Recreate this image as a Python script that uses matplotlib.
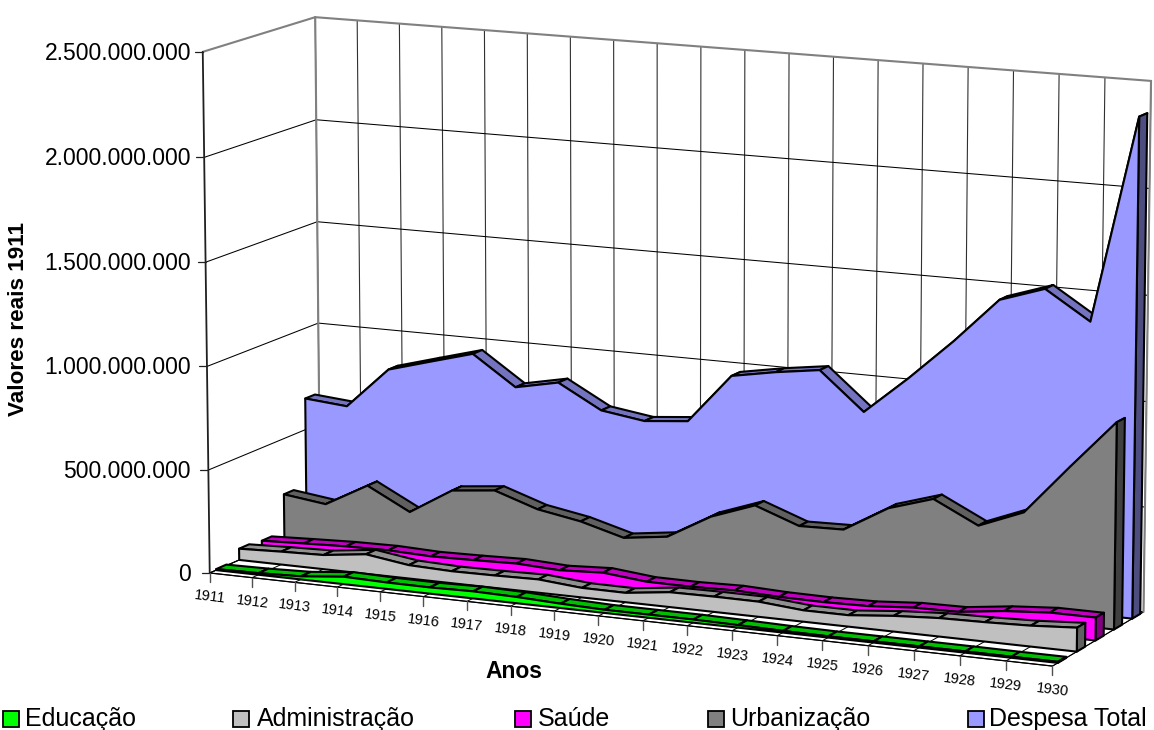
#!/bin/python
import numpy as np
import matplotlib
matplotlib.use("Agg")
import matplotlib.pyplot as plt
from matplotlib.patches import Polygon, Rectangle

plt.rcParams['font.family'] = ['Liberation Sans', 'DejaVu Sans']

YEARS = list(range(1911, 1931))
SERIES = ["Educação", "Administração", "Saúde", "Urbanização", "Despesa Total"]

# valores em milhões
EDUCACAO = [5, 8, 15, 36, 31, 30, 34, 30, 21, 15, 15, 15, 12, 8, 6, 6, 6, 6, 5, 5]
ADMINISTRACAO = [55, 63, 69, 95, 65, 58, 60, 64, 46, 45, 71, 73, 72, 54, 54, 74, 87, 91, 98, 112]
SAUDE = [45, 54, 62, 65, 58, 62, 68, 58, 69, 48, 47, 52, 44, 42, 46, 62, 65, 92, 108, 108]
URBANIZACAO = [226, 199, 312, 204, 331, 353, 283, 246, 188, 216, 335, 411, 334, 339, 463, 529, 424, 509, 746, 976]
DESPESA = [654, 636, 837, 896, 954, 811, 854, 739, 708, 728, 967, 1005, 1035, 855, 1037, 1233, 1447, 1518, 1383, 2357]

VALUES = [EDUCACAO, ADMINISTRACAO, SAUDE, URBANIZACAO, DESPESA]
FACE = ["#00FF00", "#C0C0C0", "#FF00FF", "#808080", "#9999FF"]
TOP = ["#00BF00", "#909090", "#BF00BF", "#606060", "#7373BF"]
SIDE = ["#008000", "#606060", "#800080", "#404040", "#4D4D80"]

Y_TICKS = [0, 500, 1000, 1500, 2000, 2500]
Y_LABELS = ["0", "500.000.000", "1.000.000.000", "1.500.000.000", "2.000.000.000", "2.500.000.000"]
Y_MAX = 2500
BAND = 0.045

LEGEND_BOX = [3, 233, 515, 708, 968]
LEGEND_TEXT = [25, 257, 538, 730, 989]

# cantos da caixa 3D (ano, profundidade, valor) na tela
BOX = [(0, 0, 0), (0, 0, 1), (0, 1, 1), (0, 1, 0), (1, 1, 1), (1, 1, 0), (1, 0, 0)]
SCREEN = [(209, 570), (203, 53), (315, 16), (321, 527), (1151, 81), (1143, 610), (1053, 668)]


def camera_matrix(box, screen):
    rows = []
    for (x, z, y), (u, v) in zip(box, screen):
        p = [x, z, y, 1]
        rows.append(p + [0, 0, 0, 0] + [-u * c for c in p])
        rows.append([0, 0, 0, 0] + p + [-v * c for c in p])
    _, _, vt = np.linalg.svd(np.array(rows, dtype=float))
    return vt[-1].reshape(3, 4)


CAM = camera_matrix(BOX, SCREEN)


def proj(i, z, val):
    u, v, w = CAM @ np.array([i / 19, z, val / Y_MAX, 1.0])
    return u / w, v / w


def line(ax, a, b, color="black", lw=0.6, zorder=1):
    ax.plot([a[0], b[0]], [a[1], b[1]], color=color, lw=lw, zorder=zorder, solid_capstyle="round")


def draw_walls(ax):
    ax.add_patch(Polygon([proj(0, 0, 0), proj(19, 0, 0), proj(19, 1, 0), proj(0, 1, 0)],
                         fc="white", ec="black", lw=0.7, zorder=1))
    for i in range(20):
        line(ax, proj(i, 1, 0), proj(i, 1, Y_MAX), color="#303030", lw=0.8)
        line(ax, proj(i, 0, 0), proj(i, 1, 0), lw=0.7)
    for t in Y_TICKS[:-1]:
        line(ax, proj(0, 0, t), proj(0, 1, t), lw=0.75)
        line(ax, proj(0, 1, t), proj(19, 1, t), lw=0.75)
    # moldura cinza das paredes
    gray = "#808080"
    line(ax, proj(0, 0, Y_MAX), proj(0, 1, Y_MAX), gray, 1.5, 2)
    line(ax, proj(0, 1, Y_MAX), proj(19, 1, Y_MAX), gray, 1.5, 2)
    line(ax, proj(0, 1, Y_MAX), proj(0, 1, 0), gray, 1.5, 2)
    line(ax, proj(19, 1, Y_MAX), proj(19, 1, 0), gray, 1.5, 2)


def draw_axes(ax):
    dark = "#202020"
    line(ax, proj(0, 0, 0), proj(0, 0, Y_MAX), dark, 1.3, 3)
    line(ax, proj(0, 0, 0), proj(19, 0, 0), "black", 0.9, 3)
    for t, label in zip(Y_TICKS, Y_LABELS):
        x, y = proj(0, 0, t)
        line(ax, (x - 8, y), (x, y), dark, 0.9, 3)
        ax.text(191, y + 1.5, label, ha="right", va="center", fontsize=16.5, color="black")
    for i, year in enumerate(YEARS):
        x, y = proj(i, 0, 0)
        line(ax, (x, y), (x, y + 9), "#505050", 1.0, 3)
        ax.text(x, y + 24, str(year), ha="center", va="center", fontsize=10.5, rotation=-7,
                rotation_mode="anchor", color="black")


def draw_series(ax, values, z_center, face, top, side, zorder):
    z0, z1 = z_center - BAND, z_center + BAND
    edge = dict(ec="black", lw=1.5, joinstyle="round")
    n = len(values)
    for i in range(n - 1):
        quad = [proj(i, z0, values[i]), proj(i + 1, z0, values[i + 1]),
                proj(i + 1, z1, values[i + 1]), proj(i, z1, values[i])]
        ax.add_patch(Polygon(quad, fc=top, zorder=zorder, **edge))
    last = n - 1
    cap = [proj(last, z0, 0), proj(last, z1, 0), proj(last, z1, values[last]), proj(last, z0, values[last])]
    ax.add_patch(Polygon(cap, fc=side, zorder=zorder + 0.1, **edge))
    outline = [proj(i, z0, values[i]) for i in range(n)] + [proj(last, z0, 0), proj(0, z0, 0)]
    ax.add_patch(Polygon(outline, fc=face, zorder=zorder + 0.2, **edge))


def main():
    fig = plt.figure(figsize=(11.54, 7.30), dpi=100)
    ax = fig.add_axes([0, 0, 1, 1])
    ax.set_xlim(0, 1154)
    ax.set_ylim(730, 0)
    ax.axis("off")

    draw_walls(ax)
    draw_axes(ax)
    for k in range(len(SERIES) - 1, -1, -1):
        z_center = (k + 0.5) / len(SERIES) * 1.02
        draw_series(ax, VALUES[k], z_center, FACE[k], TOP[k], SIDE[k], 10 + (4 - k))

    ax.text(19, 319, "Valores reais 1911", rotation=90, ha="center", va="center",
            fontsize=16.2, fontweight="bold")
    ax.text(514, 671, "Anos", ha="center", va="center", fontsize=16.5, fontweight="bold")

    for name, color, bx, tx in zip(SERIES, FACE, LEGEND_BOX, LEGEND_TEXT):
        ax.add_patch(Rectangle((bx, 711), 16, 16, fc=color, ec="black", lw=1.3, zorder=20))
        ax.text(tx, 719, name, ha="left", va="center", fontsize=18)

    fig.savefig("out.png", dpi=100)


if __name__ == "__main__":
    main()
